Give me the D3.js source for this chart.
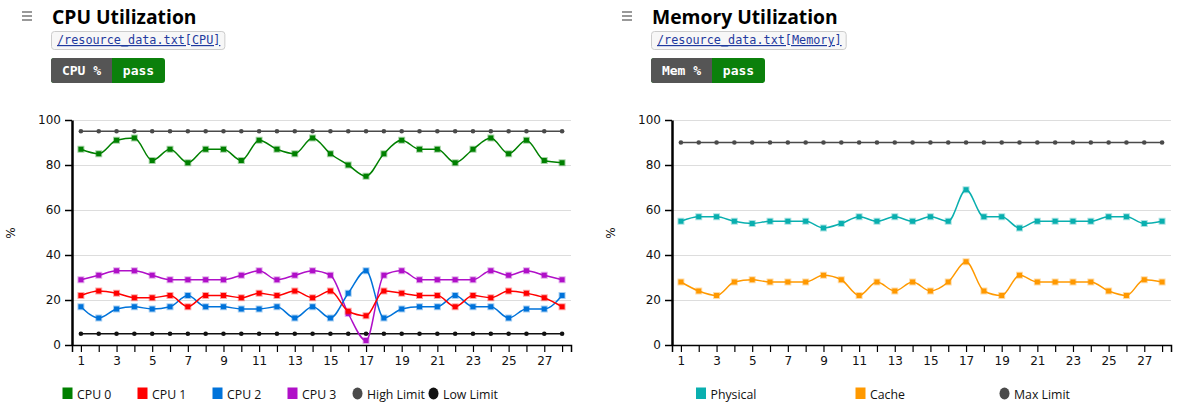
<!DOCTYPE html>
<html><head><meta charset="utf-8">
<script src="https://cdn.jsdelivr.net/npm/d3@7/dist/d3.min.js"></script>
<style>
html,body{margin:0;padding:0;background:#fff;}
svg{display:block;}
</style></head>
<body>
<svg id="c" width="1187" height="416"></svg>
<script>
// ---------- data ----------
const samples = [1,2,3,4,5,6,7,8,9,10,11,12,13,14,15,16,17,18,19,20,21,22,23,24,25,26,27,28];
const xTickLabels = [1,3,5,7,9,11,13,15,17,19,21,23,25,27];
const yTicks = [0,20,40,60,80,100];

const cpu0 = [87,85,91,92,82,87,81,87,87,82,91,87,85,92,85,80,75,85,91,87,87,81,87,92,85,91,82,81];
const cpu1 = [22,24,23,21,21,22,17,22,22,21,23,22,24,21,24,15,13,24,23,22,22,17,22,21,24,23,21,17];
const cpu2 = [17,12,16,17,16,17,22,17,17,16,16,17,12,17,12,23,33,12,16,17,17,22,17,17,12,16,16,22];
const cpu3 = [29,31,33,33,31,29,29,29,29,31,33,29,31,33,31,14,2,31,33,29,29,29,29,33,31,33,31,29];
const cpuHigh = [95,95,95,95,95,95,95,95,95,95,95,95,95,95,95,95,95,95,95,95,95,95,95,95,95,95,95,95];
const cpuLow  = [5,5,5,5,5,5,5,5,5,5,5,5,5,5,5,5,5,5,5,5,5,5,5,5,5,5,5,5];

const memPhysical = [55,57,57,55,54,55,55,55,52,54,57,55,57,55,57,55,69,57,57,52,55,55,55,55,57,57,54,55];
const memCache    = [28,24,22,28,29,28,28,28,31,29,22,28,24,28,24,28,37,24,22,31,28,28,28,28,24,22,29,28];
const memMax      = [90,90,90,90,90,90,90,90,90,90,90,90,90,90,90,90,90,90,90,90,90,90,90,90,90,90,90,90];

const cpuSeries = [
  {name:"CPU 0", values:cpu0, color:"#008000", kind:"square"},
  {name:"CPU 1", values:cpu1, color:"#ff0000", kind:"square"},
  {name:"CPU 2", values:cpu2, color:"#0073da", kind:"square"},
  {name:"CPU 3", values:cpu3, color:"#b010c8", kind:"square"},
  {name:"High Limit", values:cpuHigh, color:"#4a4a4a", kind:"circle"},
  {name:"Low Limit", values:cpuLow, color:"#111111", kind:"circle"}
];
const memSeries = [
  {name:"Physical", values:memPhysical, color:"#0aafaf", kind:"square"},
  {name:"Cache", values:memCache, color:"#ff9900", kind:"square"},
  {name:"Max Limit", values:memMax, color:"#4a4a4a", kind:"circle"}
];

// ---------- drawing ----------
const svg = d3.select("#c");
const AXF = "'DejaVu Sans', Verdana, sans-serif";

function drawChart(ox, cfg){
  const g = svg.append("g").attr("transform", `translate(${ox},0)`);

  // header
  const ham = g.append("g").attr("fill","#999");
  [12,16,20].forEach(yy => ham.append("rect").attr("x",22).attr("y",yy-1).attr("width",10).attr("height",2));
  g.append("text").attr("x",52).attr("y",24)
    .attr("font-family","'Open Sans', sans-serif").attr("font-weight",700).attr("font-size",19.3)
    .attr("fill","#000").text(cfg.title);

  const link = g.append("g");
  const lt = link.append("text").attr("x",57).attr("y",44)
    .attr("font-family","'DejaVu Sans Mono', monospace").attr("font-size",11.8)
    .attr("fill","#1f3a9e").attr("text-decoration","underline").text(cfg.link);
  const lw = lt.node().getComputedTextLength();
  link.insert("rect","text").attr("x",51.5).attr("y",31.5).attr("width",lw+10).attr("height",18)
    .attr("rx",3).attr("fill","#f7f7f7").attr("stroke","#cccccc");

  // badge
  g.append("rect").attr("x",51).attr("y",58).attr("width",114).attr("height",25).attr("rx",3).attr("fill","#0b800b");
  g.append("path").attr("d","M54,58 H112 V83 H54 A3,3 0 0 1 51,80 V61 A3,3 0 0 1 54,58 Z").attr("fill","#555555");
  g.append("text").attr("x",81.5).attr("y",75).attr("text-anchor","middle")
    .attr("font-family","'DejaVu Sans Mono', monospace").attr("font-weight",700).attr("font-size",13)
    .attr("fill","#fff").text(cfg.badge);
  g.append("text").attr("x",138.5).attr("y",75).attr("text-anchor","middle")
    .attr("font-family","'DejaVu Sans Mono', monospace").attr("font-weight",700).attr("font-size",13)
    .attr("fill","#fff").text("pass");

  // scales
  const x = d3.scaleLinear().domain([0.5,28.5]).range([72,571]);
  const y = d3.scaleLinear().domain([0,100]).range([345,120]);

  // gridlines
  g.append("g").selectAll("line").data(yTicks.filter(v=>v>0)).join("line")
    .attr("x1",72).attr("x2",571).attr("y1",d=>y(d)+0.5).attr("y2",d=>y(d)+0.5)
    .attr("stroke","#dddddd").attr("stroke-width",1);

  // x axis
  const xa = g.append("g").attr("transform","translate(0,345)")
    .call(d3.axisBottom(x).tickValues(samples).tickSize(7).tickSizeOuter(7).tickPadding(4)
      .tickFormat(d => xTickLabels.includes(d) ? d : ""));
  xa.select(".domain").attr("stroke","#000").attr("stroke-width",1.5);
  xa.selectAll(".tick line").attr("stroke","#000").attr("stroke-width",1.2);
  xa.selectAll("text").attr("font-family",AXF).attr("font-size",12).attr("fill","#111");

  // y axis
  const ya = g.append("g").attr("transform","translate(72,0)")
    .call(d3.axisLeft(y).tickValues(yTicks).tickSize(7).tickSizeOuter(0).tickPadding(4));
  ya.select(".domain").attr("stroke","#000").attr("stroke-width",2.5);
  ya.selectAll(".tick line").attr("stroke","#000").attr("stroke-width",1.5);
  ya.selectAll("text").attr("font-family",AXF).attr("font-size",12).attr("fill","#111");

  g.append("text").attr("transform","translate(15,233) rotate(-90)").attr("text-anchor","middle")
    .attr("font-family",AXF).attr("font-size",12).attr("fill","#111").text("%");

  // series
  const line = d3.line().x((d,i)=>x(samples[i])).y(d=>y(d)).curve(d3.curveMonotoneX);
  const order = cfg.series.slice().reverse(); // limits behind
  order.forEach(s => {
    const sg = g.append("g");
    sg.append("path").attr("d", line(s.values)).attr("fill","none")
      .attr("stroke",s.color).attr("stroke-width",1.5);
    if (s.kind === "square") {
      sg.selectAll("rect").data(s.values).join("rect")
        .attr("x",(d,i)=>x(samples[i])-2.5).attr("y",d=>y(d)-2.5)
        .attr("width",5).attr("height",5).attr("fill",s.color)
        .attr("stroke",s.color).attr("stroke-opacity",0.35).attr("stroke-width",2);
    } else {
      sg.selectAll("circle").data(s.values).join("circle")
        .attr("cx",(d,i)=>x(samples[i])).attr("cy",d=>y(d)).attr("r",2.3).attr("fill",s.color);
    }
  });

  // legend
  const lg = g.append("g");
  cfg.series.forEach((s,i) => {
    const lx = cfg.legendX[i];
    if (s.kind === "square") {
      lg.append("rect").attr("x",lx).attr("y",387.5).attr("width",10).attr("height",11.5).attr("fill",s.color);
    } else {
      lg.append("ellipse").attr("cx",lx+5).attr("cy",393.5).attr("rx",5).attr("ry",6).attr("fill",s.color);
    }
    lg.append("text").attr("x",lx+14.5).attr("y",398.5)
      .attr("font-family","'Open Sans', sans-serif").attr("font-size",12.3).attr("fill","#111").text(s.name);
  });
}

drawChart(0, {title:"CPU Utilization", link:"/resource_data.txt[CPU]", badge:"CPU %",
  series:cpuSeries, legendX:[62.5,137.5,212.5,287.5,352.5,428.5]});
drawChart(600, {title:"Memory Utilization", link:"/resource_data.txt[Memory]", badge:"Mem %",
  series:memSeries, legendX:[96,255.5,399.5]});
</script>
</body></html>
